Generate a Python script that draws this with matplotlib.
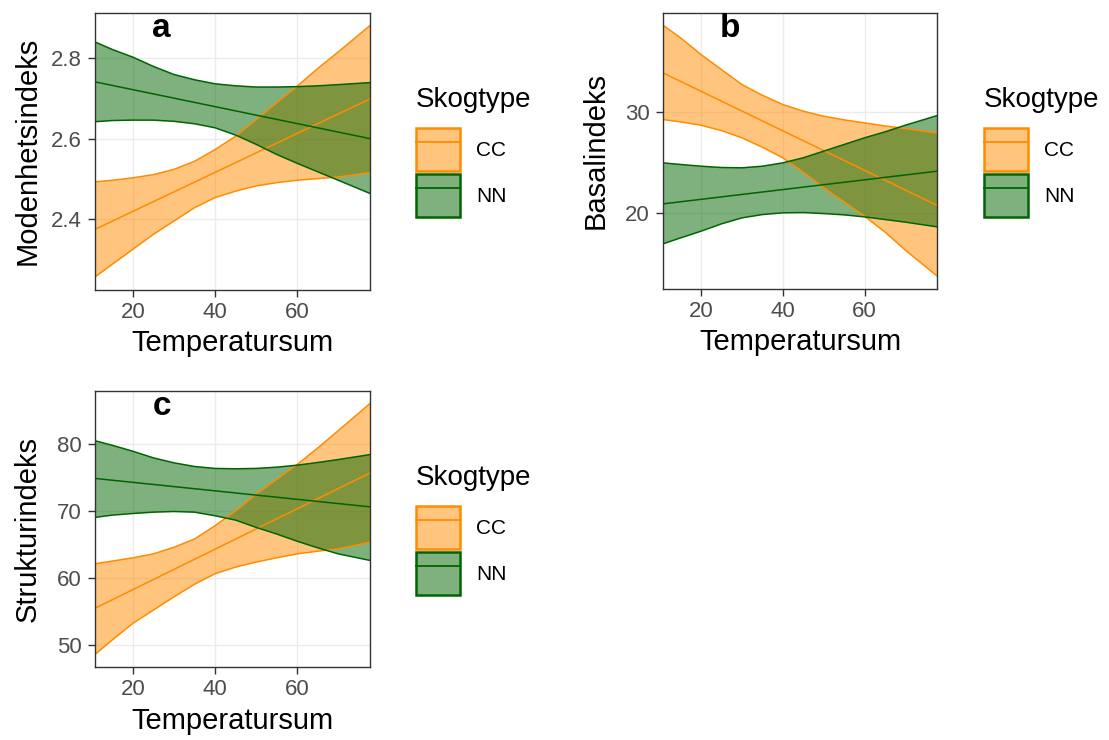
import matplotlib.pyplot as plt
from matplotlib.colors import to_rgba
from matplotlib.lines import Line2D
from matplotlib.patches import Patch

plt.rcParams['font.family'] = ['Liberation Sans', 'DejaVu Sans']

W, H = 1109, 740
CC_COLOR = '#FF8C00'
NN_COLOR = '#006400'

temp = [10.7, 15, 20, 25, 30, 35, 40, 45, 50, 55, 60, 65, 70, 77.8]
temp_ends = [10.7, 77.8]
groups = ['CC', 'NN']
x_ticks = [20, 40, 60]

# panel a - Modenhetsindeks
cc_upper_a = [2.493, 2.497, 2.503, 2.511, 2.524, 2.544, 2.573, 2.606, 2.647, 2.689, 2.730, 2.774, 2.815, 2.881]
cc_lower_a = [2.257, 2.289, 2.326, 2.363, 2.396, 2.429, 2.454, 2.470, 2.483, 2.491, 2.497, 2.501, 2.505, 2.516]
cc_fit_a = [2.375, 2.699]
nn_upper_a = [2.840, 2.821, 2.802, 2.779, 2.759, 2.746, 2.736, 2.731, 2.728, 2.728, 2.729, 2.731, 2.734, 2.739]
nn_lower_a = [2.642, 2.645, 2.646, 2.646, 2.643, 2.637, 2.627, 2.609, 2.586, 2.561, 2.539, 2.518, 2.497, 2.464]
nn_fit_a = [2.741, 2.600]
y_ticks_a = [2.4, 2.6, 2.8]

# panel b - Basalindeks
cc_upper_b = [38.58, 37.33, 35.68, 34.19, 32.71, 31.65, 30.73, 30.07, 29.57, 29.21, 28.91, 28.61, 28.35, 27.92]
cc_lower_b = [29.24, 29.01, 28.68, 28.15, 27.43, 26.50, 25.45, 24.03, 22.48, 21.09, 19.67, 18.10, 16.30, 13.73]
cc_fit_b = [33.86, 20.73]
nn_upper_b = [24.95, 24.79, 24.62, 24.49, 24.46, 24.62, 24.95, 25.45, 26.11, 26.77, 27.43, 28.02, 28.68, 29.64]
nn_lower_b = [16.93, 17.52, 18.18, 18.91, 19.50, 19.83, 20.00, 20.03, 19.93, 19.80, 19.60, 19.34, 19.08, 18.61]
nn_fit_b = [20.89, 24.13]
y_ticks_b = [20, 30]

# panel c - Strukturindeks
cc_upper_c = [62.08, 62.48, 62.97, 63.56, 64.55, 65.79, 67.77, 70.00, 72.48, 74.70, 76.93, 79.40, 82.00, 86.09]
cc_lower_c = [48.47, 50.69, 53.17, 55.15, 57.13, 59.01, 60.59, 61.58, 62.33, 62.97, 63.56, 63.96, 64.31, 65.30]
cc_fit_c = [55.40, 75.69]
nn_upper_c = [80.50, 79.80, 78.91, 77.92, 77.18, 76.63, 76.34, 76.29, 76.34, 76.53, 76.83, 77.23, 77.67, 78.42]
nn_lower_c = [69.01, 69.36, 69.60, 69.80, 69.90, 69.80, 69.26, 68.61, 67.52, 66.53, 65.45, 64.46, 63.56, 62.57]
nn_fit_c = [74.85, 70.59]
y_ticks_c = [50, 60, 70, 80]


def px_axes(left, top, right, bottom):
    return fig.add_axes([left / W, 1 - bottom / H, (right - left) / W, (bottom - top) / H])


def draw_panel(ax, letter, ylabel, cc, nn, yticks, legend_x, legend_top):
    for (upper, lower, fit), color in ((cc, CC_COLOR), (nn, NN_COLOR)):
        ax.fill_between(temp, lower, upper, facecolor=to_rgba(color, 0.5), edgecolor='none')
        ax.plot(temp, upper, color=color, lw=1.1)
        ax.plot(temp, lower, color=color, lw=1.1)
        ax.plot(temp_ends, fit, color=color, lw=1.1)
    ax.set_xlim(temp_ends[0], temp_ends[-1])
    ax.margins(x=0, y=0.05)
    ax.set_xticks(x_ticks)
    ax.set_yticks(yticks)
    ax.set_yticklabels([f'{t:g}' for t in yticks])
    ax.grid(True, color='#EBEBEB', lw=1.0)
    ax.set_axisbelow(True)
    for sp in ax.spines.values():
        sp.set_color('#333333')
        sp.set_linewidth(1.0)
    ax.tick_params(direction='out', length=5, width=1.0, color='#333333',
                   labelcolor='#4D4D4D', labelsize=16)
    ax.tick_params(axis='x', pad=3.5)
    ax.tick_params(axis='y', pad=4.5)
    ax.set_xlabel('Temperatursum', fontsize=21, labelpad=5)
    ax.set_ylabel(ylabel, fontsize=21)
    width_px = ax.get_position().width * W
    ax.yaxis.set_label_coords(-53.5 / width_px, 0.5)
    ax.text(27, 1.0, letter, transform=ax.get_xaxis_transform(), ha='center', va='top',
            fontsize=24, fontweight='bold')

    fig.text(legend_x / W, 1 - (legend_top + 12) / H, 'Skogtype', fontsize=20, va='center', ha='left')
    handles = [(Patch(facecolor=to_rgba(c, 0.5), edgecolor=c, lw=1.8), Line2D([], [], color=c, lw=1.3))
               for c in (CC_COLOR, NN_COLOR)]
    ax.legend(handles, groups, loc='upper left', bbox_to_anchor=(legend_x / W, 1 - (legend_top + 40) / H),
              bbox_transform=fig.transFigure, frameon=False, borderpad=0, borderaxespad=0,
              handlelength=2.1, handleheight=2.8, labelspacing=0.14, handletextpad=0.8, fontsize=15)


fig = plt.figure(figsize=(W / 100, H / 100), dpi=100)

ax_a = px_axes(94.7, 12.7, 370.3, 289.7)
draw_panel(ax_a, 'a', 'Modenhetsindeks', (cc_upper_a, cc_lower_a, cc_fit_a),
           (nn_upper_a, nn_lower_a, nn_fit_a), y_ticks_a, 416, 88)

ax_b = px_axes(663, 12.7, 937.3, 288.7)
draw_panel(ax_b, 'b', 'Basalindeks', (cc_upper_b, cc_lower_b, cc_fit_b),
           (nn_upper_b, nn_lower_b, nn_fit_b), y_ticks_b, 984, 88)

ax_c = px_axes(94.7, 390.7, 370.3, 667.3)
draw_panel(ax_c, 'c', 'Strukturindeks', (cc_upper_c, cc_lower_c, cc_fit_c),
           (nn_upper_c, nn_lower_c, nn_fit_c), y_ticks_c, 416, 466)

fig.savefig('out.png', dpi=100)
